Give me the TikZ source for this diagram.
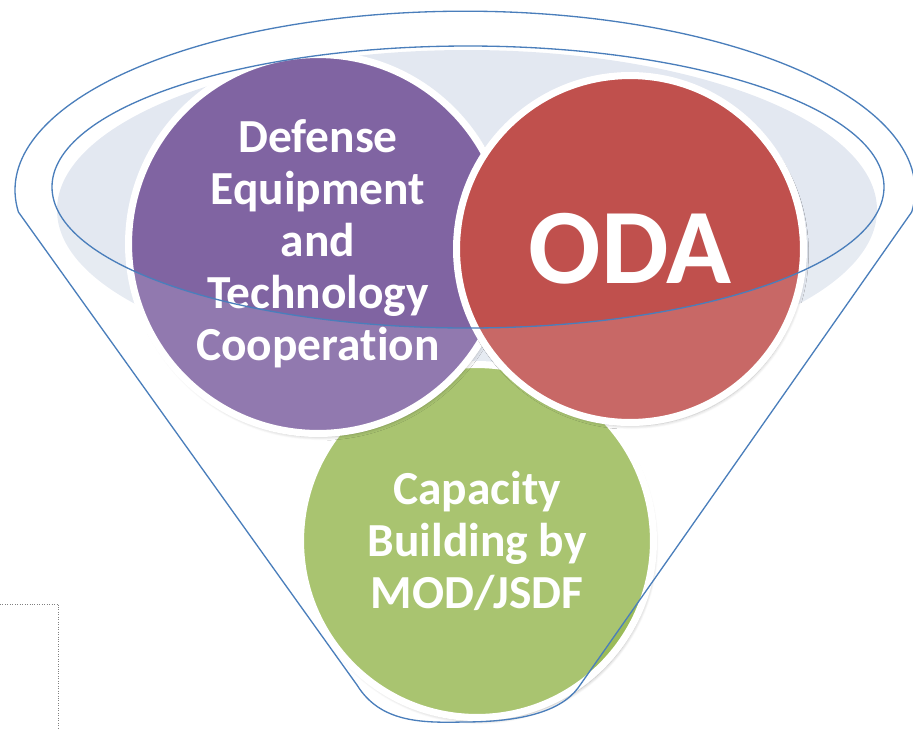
\documentclass[tikz,border=0pt]{standalone}
\usepackage{fontspec}
\setmainfont{Carlito}[Ligatures=NoCommon]
\usetikzlibrary{shadows.blur}

\definecolor{funnelblue}{HTML}{4A7EBB}
\definecolor{rimfill}{HTML}{E3E8F1}
\definecolor{defpurple}{HTML}{8064A2}
\definecolor{odared}{HTML}{C0504D}
\definecolor{capgreen}{HTML}{9BBB59}

\begin{document}
\begin{tikzpicture}[
    x=0.02cm, y=-0.02cm,
    bubble/.style={circle, draw=white, line width=4pt, align=center, inner sep=0pt, text=white,
        blur shadow={shadow xshift=1pt, shadow yshift=-2pt, shadow blur steps=8, shadow opacity=30}},
    bubbletext/.style={font=\fontsize{27}{29.6}\selectfont\bfseries},
    bigtext/.style={font=\fontsize{61}{70}\selectfont\bfseries},
    rim/.style={draw=funnelblue, line width=0.75pt}
]

\useasboundingbox (0,0) rectangle (913,728);

% Funnel outline: top rim, two sides, round bottom
\def\funnelpath{(18.4,212) arc[start angle=173, end angle=367, x radius=450, y radius=179]
    -- (578,688) .. controls (560,712) and (520,722) .. (463,722)
    .. controls (420,723) and (380,722) .. (357,685) -- cycle}
\def\innerrim{(468,187) ellipse[x radius=416, y radius=141]}

% Light inside of the rim
\fill[rimfill] (467,210) ellipse[x radius=410, y radius=160];

% The three circles
\node[bubble, fill=capgreen, minimum size=7.06cm, bubbletext] (capacity) at (477,541) {Capacity\\Building by\\MOD/JSDF};
\node[bubble, fill=defpurple, minimum size=7.58cm, bubbletext] (defense) at (318,244) {Defense\\Equipment\\and\\Technology\\Cooperation};
\node[bubble, fill=odared, minimum size=6.94cm, bigtext] (oda) at (630,249) {ODA};

% Funnel body lightens the circles below the rim
\fill[white, fill opacity=0.14, even odd rule] \funnelpath \innerrim;

% Outlines on top
\draw[rim] \funnelpath;
\draw[rim] \innerrim;

% Dotted box at the lower left
\draw[gray, densely dotted, line width=0.4pt] (0,604) -- (58.5,604) -- (58.5,728);

\end{tikzpicture}
\end{document}
